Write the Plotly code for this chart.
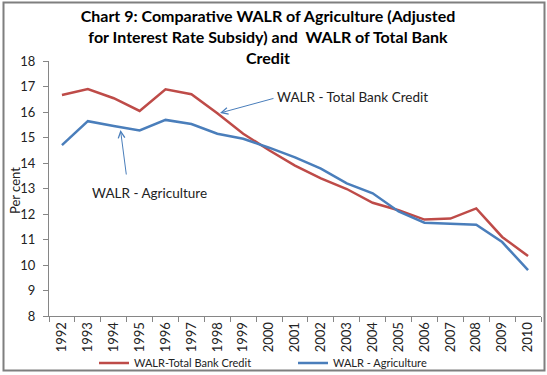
import plotly.graph_objects as go

years = [str(y) for y in range(1992, 2011)]
walr_total = [16.67, 16.9, 16.54, 16.04, 16.89, 16.7, 15.95, 15.15, 14.5, 13.9,
              13.4, 12.98, 12.44, 12.15, 11.78, 11.82, 12.22, 11.1, 10.35]
walr_agri = [14.7, 15.64, 15.45, 15.28, 15.69, 15.53, 15.15, 14.95, 14.6, 14.22,
             13.78, 13.2, 12.81, 12.1, 11.66, 11.63, 11.58, 10.9, 9.8]
y_ticks = list(range(8, 19))

RED = "#BE4B48"
BLUE = "#4A7EBB"
FONT = "Lato"
W, H = 547, 375
L, R, T, B = 49, 6, 61, 59
pw, ph = W - L - R, H - T - B

fig = go.Figure()
fig.add_trace(go.Scatter(x=years, y=walr_total, mode="lines", name="WALR-Total Bank Credit",
                         line=dict(color=RED, width=2.5), legend="legend"))
fig.add_trace(go.Scatter(x=years, y=walr_agri, mode="lines", name="WALR - Agriculture",
                         line=dict(color=BLUE, width=2.5), legend="legend2"))

def px_x(px):
    return (px - L) / pw

def px_y(py):
    return (H - B - py) / ph

fig.update_layout(
    width=W, height=H,
    margin=dict(l=L, r=R, t=T, b=B, autoexpand=False),
    paper_bgcolor="white", plot_bgcolor="white",
    font=dict(family=FONT, color="#222", size=12),
    title=dict(text="Chart 9: Comparative WALR of Agriculture (Adjusted<br>for Interest Rate Subsidy) and  WALR of Total Bank<br>Credit",
               x=268 / W, xref="container", xanchor="center", y=1 - 22 / H, yref="container", yanchor="middle",
               font=dict(family=FONT, size=16, color="black", weight="bold")),
    xaxis=dict(type="category", tickangle=-90, showline=True, linecolor="#868686", linewidth=1,
               ticks="outside", tickson="boundaries", ticklen=5, tickcolor="#868686",
               showgrid=False, tickfont=dict(size=13, color="#222"), range=[-0.5, 18.5]),
    yaxis=dict(range=[8, 18], tickvals=y_ticks, showline=True, linecolor="#868686", linewidth=1,
               ticks="outside", ticklen=5, tickcolor="#868686", showgrid=False, zeroline=False,
               tickfont=dict(size=13, color="#222"), ticklabelstandoff=5),
    legend=dict(orientation="h", x=px_x(94), xanchor="left", y=px_y(363), yanchor="middle",
                font=dict(size=11, color="#222"), itemwidth=30, bgcolor="rgba(0,0,0,0)"),
    legend2=dict(orientation="h", x=px_x(293), xanchor="left", y=px_y(363), yanchor="middle",
                 font=dict(size=11, color="#222"), itemwidth=30, bgcolor="rgba(0,0,0,0)"),
    showlegend=True,
)

# Outer frame
fig.add_shape(type="rect", xref="paper", yref="paper",
              x0=px_x(3.5), x1=px_x(544.5), y0=px_y(370.5), y1=px_y(2.5),
              line=dict(color="#7F7F7F", width=2), fillcolor="rgba(0,0,0,0)", layer="above")

# Y axis title
fig.add_annotation(x=px_x(15), y=px_y(191), xref="paper", yref="paper",
                   xanchor="center", yanchor="middle", textangle=-90,
                   text="Per cent", showarrow=False, font=dict(size=13, color="#222"))

# Labels and arrows
fig.add_annotation(x=px_x(352), y=px_y(97), xref="paper", yref="paper",
                   xanchor="center", yanchor="middle",
                   text="WALR - Total Bank Credit", showarrow=False,
                   font=dict(size=13.5, color="#222"))
fig.add_annotation(x=px_x(149), y=px_y(193), xref="paper", yref="paper",
                   xanchor="center", yanchor="middle",
                   text="WALR - Agriculture", showarrow=False,
                   font=dict(size=13.5, color="#222"))
fig.add_annotation(x=px_x(220), y=px_y(113), xref="paper", yref="paper", text="",
                   showarrow=True, ax=55, ay=-15, arrowhead=5, arrowsize=1.3,
                   arrowwidth=1, arrowcolor=BLUE)
fig.add_annotation(x=px_x(120.5), y=px_y(130), xref="paper", yref="paper", text="",
                   showarrow=True, ax=6, ay=46, arrowhead=5, arrowsize=1.3,
                   arrowwidth=1, arrowcolor=BLUE)

fig.write_html("out.html", config={"displayModeBar": False},
               post_script="document.body.style.margin='0px';document.body.style.padding='0px';")
